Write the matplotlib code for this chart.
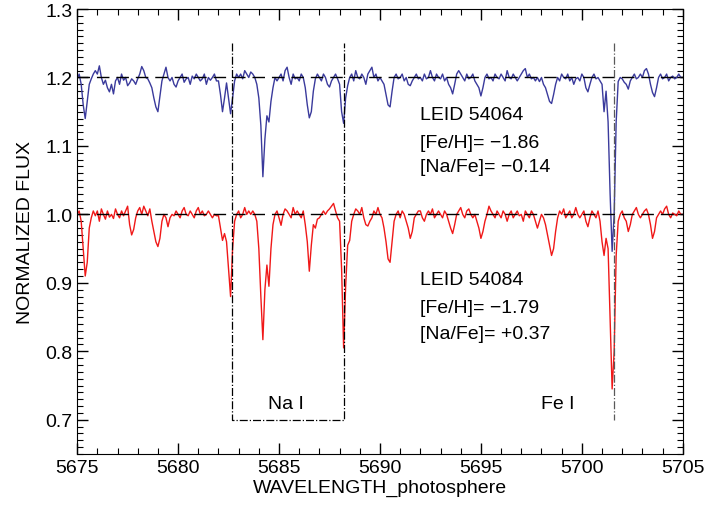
import numpy as np
import matplotlib
matplotlib.use('Agg')
import matplotlib.pyplot as plt
from matplotlib.ticker import MultipleLocator

plt.rcParams['font.family'] = ['Liberation Sans', 'DejaVu Sans']

# wavelength grid, 0.1 A steps from 5675.0 to 5705.0
wave_start = 5675.0
wave_step = 0.1

# LEID 54064 (shifted to 1.2), one row per Angstrom
flux_54064 = [
    1.198, 1.205, 1.19, 1.16, 1.14, 1.165, 1.19, 1.198, 1.205, 1.21,
    1.205, 1.217, 1.2, 1.19, 1.196, 1.185, 1.179, 1.19, 1.176, 1.195,
    1.2, 1.19, 1.205, 1.196, 1.2, 1.188, 1.192, 1.198, 1.195, 1.19,
    1.198, 1.205, 1.216, 1.21, 1.2, 1.198, 1.192, 1.185, 1.17, 1.157,
    1.15, 1.172, 1.195, 1.205, 1.215, 1.2, 1.195, 1.2, 1.19, 1.186,
    1.195, 1.2, 1.205, 1.193, 1.198, 1.2, 1.19, 1.202, 1.198, 1.205,
    1.2, 1.195, 1.198, 1.205, 1.19, 1.2, 1.196, 1.2, 1.205, 1.195,
    1.195, 1.175, 1.15, 1.17, 1.192, 1.17, 1.147, 1.17, 1.195, 1.205,
    1.2, 1.205, 1.198, 1.21, 1.205, 1.2, 1.208, 1.205, 1.2, 1.19,
    1.17, 1.13, 1.055, 1.11, 1.144, 1.135, 1.165, 1.185, 1.2, 1.195,
    1.2, 1.205, 1.195, 1.21, 1.215, 1.2, 1.19, 1.205, 1.198, 1.2,
    1.195, 1.205, 1.2, 1.185, 1.16, 1.141, 1.15, 1.18, 1.198, 1.205,
    1.2, 1.195, 1.205, 1.2, 1.19, 1.186, 1.195, 1.2, 1.205, 1.198,
    1.19, 1.15, 1.133, 1.17, 1.188, 1.2, 1.205, 1.195, 1.21, 1.2,
    1.198, 1.205, 1.2, 1.19, 1.205, 1.21, 1.215, 1.2, 1.205, 1.195,
    1.2, 1.195, 1.19, 1.175, 1.16, 1.157, 1.18, 1.2, 1.205, 1.198,
    1.2, 1.205, 1.195, 1.2, 1.19, 1.188, 1.195, 1.2, 1.205, 1.198,
    1.2, 1.195, 1.205, 1.198, 1.2, 1.21, 1.2, 1.195, 1.205, 1.2,
    1.198, 1.205, 1.195, 1.2, 1.19, 1.185, 1.176, 1.19, 1.205, 1.21,
    1.205, 1.2, 1.195, 1.205, 1.198, 1.2, 1.205, 1.195, 1.19, 1.185,
    1.173, 1.185, 1.2, 1.205, 1.198, 1.2, 1.195, 1.205, 1.2, 1.198,
    1.205, 1.2, 1.195, 1.21, 1.2, 1.198, 1.205, 1.2, 1.195, 1.2,
    1.205, 1.21, 1.213, 1.2, 1.205, 1.198, 1.2, 1.195, 1.2, 1.194,
    1.2, 1.19, 1.185, 1.175, 1.165, 1.162, 1.175, 1.19, 1.2, 1.195,
    1.205, 1.2, 1.198, 1.205, 1.195, 1.2, 1.19, 1.198, 1.2, 1.195,
    1.205, 1.2, 1.185, 1.179, 1.19, 1.2, 1.205, 1.198, 1.2, 1.195,
    1.19, 1.15, 1.18, 1.135, 1.03, 0.946, 1.0, 1.135, 1.194, 1.2,
    1.198, 1.193, 1.19, 1.183, 1.195, 1.2, 1.205, 1.198, 1.2, 1.205,
    1.2, 1.21, 1.213, 1.205, 1.19, 1.178, 1.172, 1.185, 1.2, 1.205,
    1.198, 1.2, 1.205, 1.195, 1.2, 1.202, 1.198, 1.2, 1.205, 1.2,
    1.2,
]

# LEID 54084 (continuum at 1.0)
flux_54084 = [
    1.0, 1.005, 0.99, 0.95, 0.91, 0.93, 0.98, 0.995, 1.005, 0.998,
    1.005, 0.99, 1.008, 1.0, 0.993, 1.005, 0.996, 1.0, 0.994, 1.008,
    1.0, 0.995, 1.005, 0.998, 1.005, 1.012, 0.985, 0.97, 0.978, 0.995,
    1.005, 1.01, 1.0, 1.012, 1.005, 0.998, 1.008, 0.99, 0.975, 0.96,
    0.953, 0.965, 0.99, 1.0, 0.995, 0.982, 0.995, 1.0, 0.998, 1.005,
    1.0, 0.995, 1.005, 1.01, 1.0, 0.998, 1.005, 1.0, 0.995, 1.005,
    1.01, 1.0, 1.005, 0.998, 1.0, 1.005, 1.0, 0.995, 1.0, 0.998,
    0.998, 0.98, 0.962, 0.972, 0.96, 0.92, 0.88, 0.95, 0.99, 1.0,
    1.005, 0.995, 1.0, 1.01, 1.0, 1.005, 1.0, 1.005, 1.0, 0.99,
    0.95, 0.88, 0.817, 0.89, 0.926, 0.895, 0.95, 0.985, 1.0, 1.005,
    0.995, 0.984, 1.0, 1.008, 1.005, 1.0, 0.995, 1.01, 1.0, 1.005,
    1.0, 0.995, 1.005, 0.985, 0.96, 0.917, 0.955, 0.985, 0.98, 0.993,
    0.995, 1.0, 1.005, 1.0, 1.005, 1.008, 1.012, 1.016, 1.005, 0.995,
    0.99, 0.92, 0.805, 0.895, 0.955, 0.962, 0.99, 1.0, 1.008, 1.005,
    1.0, 1.01, 0.995, 0.985, 0.983, 0.99, 0.995, 1.005, 1.0, 1.01,
    1.0, 0.995, 0.98, 0.96, 0.935, 0.93, 0.96, 0.99, 1.0, 1.005,
    0.995, 1.005, 1.0, 0.99, 0.98, 0.965, 0.975, 0.995, 1.0, 1.005,
    1.005, 0.995, 0.99, 1.0, 1.005, 1.0, 1.008, 0.995, 1.0, 1.005,
    1.0, 0.995, 1.005, 1.0, 0.99, 0.98, 0.972, 0.985, 1.0, 1.005,
    1.01, 1.0, 0.995, 1.005, 1.008, 1.0, 0.995, 1.0, 0.99, 0.98,
    0.965, 0.975, 0.99, 1.0, 1.012, 1.005, 1.0, 0.995, 1.005, 1.0,
    0.995, 1.005, 1.0, 0.99, 1.0, 1.005, 0.995, 1.0, 1.005, 0.998,
    1.0, 0.99, 1.005, 1.0, 0.995, 1.005, 1.0, 0.99, 0.98, 0.99,
    1.0, 0.995, 0.985, 0.97, 0.955, 0.94, 0.95, 0.975, 0.995, 1.005,
    1.0, 1.008, 0.995, 1.0, 1.005, 0.995, 1.0, 1.01, 1.0, 0.995,
    1.0, 1.005, 0.99, 0.982, 0.995, 1.005, 1.0, 0.995, 1.005, 0.99,
    0.96, 0.94, 0.965, 0.95, 0.85, 0.745, 0.80, 0.94, 0.99, 1.0,
    1.005, 0.995, 0.99, 0.975, 0.985, 1.0, 1.005, 1.01, 1.0, 0.995,
    1.0, 1.005, 1.008, 1.0, 0.985, 0.965, 0.975, 0.995, 1.0, 1.005,
    1.0, 1.008, 1.012, 1.0, 0.995, 1.002, 1.0, 0.998, 1.005, 1.0,
    1.0,
]

wave = wave_start + wave_step * np.arange(len(flux_54084))

labels_54064 = ['LEID 54064', '[Fe/H]= \u22121.86', '[Na/Fe]= \u22120.14']
labels_54084 = ['LEID 54084', '[Fe/H]= \u22121.79', '[Na/Fe]= +0.37']

fig = plt.figure(figsize=(7.21, 5.06), dpi=100)
ax = fig.add_axes([0.107, 0.1008, 0.840, 0.8794])

ax.plot(wave, flux_54064, color='#3a3a9c', lw=1.0)
ax.plot(wave, flux_54084, color='#f01818', lw=1.0)

# continuum levels
for lev in [1.2, 1.0]:
    ax.axhline(lev, color='black', lw=1.0, dashes=(9, 5), zorder=3)

# Na I box and Fe I line
na_left, na_right = 5682.65, 5688.2
fe_line = 5701.57
ax.plot([na_left, na_left, na_right, na_right], [1.25, 0.7, 0.7, 1.25],
        color='black', lw=0.9, ls='-.', zorder=3)
ax.plot([fe_line, fe_line], [1.25, 0.7], color='0.35', lw=0.9, ls='-.', zorder=3)

fs = 14
for lab, yy in zip(labels_54064, [1.14, 1.0985, 1.063]):
    ax.text(5692.0, yy, lab, fontsize=fs, va='baseline', ha='left')
for lab, yy in zip(labels_54084, [0.8985, 0.858, 0.819]):
    ax.text(5692.0, yy, lab, fontsize=fs, va='baseline', ha='left')
ax.text(5685.35, 0.7175, 'Na I', fontsize=fs, va='baseline', ha='center')
ax.text(5698.8, 0.7175, 'Fe I', fontsize=fs, va='baseline', ha='center')

ax.set_xlim(5675, 5705)
ax.set_ylim(0.65, 1.3)
ax.xaxis.set_major_locator(MultipleLocator(5))
ax.xaxis.set_minor_locator(MultipleLocator(1))
ax.yaxis.set_major_locator(MultipleLocator(0.1))
ax.yaxis.set_minor_locator(MultipleLocator(0.01))
ax.tick_params(which='both', direction='in', top=True, right=True, labelsize=fs)
ax.tick_params(which='major', length=8, width=1)
ax.tick_params(which='minor', length=4.5, width=0.8)
ax.set_yticks(np.arange(0.7, 1.31, 0.1))
ax.set_yticklabels(['0.7', '0.8', '0.9', '1.0', '1.1', '1.2', '1.3'])

ax.set_xlabel('WAVELENGTH_photosphere', fontsize=fs, labelpad=2)
ax.set_ylabel('NORMALIZED FLUX', fontsize=fs, labelpad=8)

fig.savefig('out.png', dpi=100)
